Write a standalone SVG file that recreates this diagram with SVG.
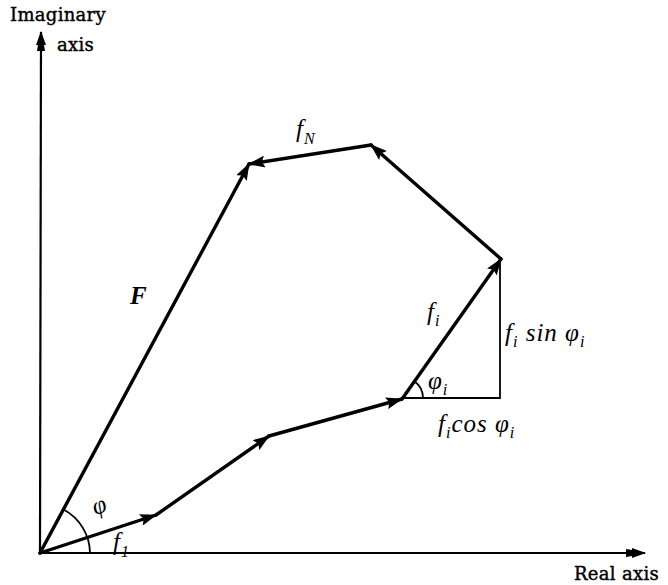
<svg xmlns="http://www.w3.org/2000/svg" width="668" height="585" viewBox="0 0 668 585">
<defs>
<marker id="ah" viewBox="0 0 17 12" refX="16" refY="6" markerWidth="17" markerHeight="12" markerUnits="userSpaceOnUse" orient="auto">
<path d="M0,0 L17,6 L0,12 L3,6 Z" fill="#000"/>
</marker>
<marker id="ax" viewBox="0 0 20 10" refX="19" refY="5" markerWidth="20" markerHeight="10" markerUnits="userSpaceOnUse" orient="auto">
<path d="M0,1 L6,2 L6,0 L20,5 L6,10 L6,8 L0,9 Z" fill="#000"/>
</marker>
</defs>
<style>
.axis{stroke:#000;stroke-width:2.2;fill:none}
.vec{stroke:#000;stroke-width:3.4;fill:none;stroke-linecap:round}
.thin{stroke:#000;stroke-width:1.8;fill:none}
.lab{font-family:"DejaVu Serif","Liberation Serif",serif;font-size:18px;letter-spacing:0.3px;fill:#000;stroke:#000;stroke-width:0.4}
.it{font-family:"Liberation Serif",serif;font-style:italic;font-size:25px;letter-spacing:1px;fill:#000}
.sub{font-family:"Liberation Serif",serif;font-style:italic;font-size:16px;fill:#000}
</style>
<rect width="668" height="585" fill="#fff"/>
<g id="connectors">
<line class="axis" x1="40" y1="553" x2="41" y2="32" marker-end="url(#ax)"/>
<line class="axis" x1="40" y1="553" x2="645" y2="553" marker-end="url(#ax)"/>
<line class="vec" x1="40" y1="553" x2="156" y2="515" marker-end="url(#ah)"/>
<line class="vec" x1="156" y1="515" x2="269" y2="436" marker-end="url(#ah)"/>
<line class="vec" x1="269" y1="436" x2="402" y2="399" marker-end="url(#ah)"/>
<line class="vec" x1="402" y1="399" x2="501" y2="259" marker-end="url(#ah)"/>
<line class="vec" x1="501" y1="259" x2="371" y2="145" marker-end="url(#ah)"/>
<line class="vec" x1="371" y1="145" x2="249" y2="164" marker-end="url(#ah)"/>
<line class="vec" x1="40" y1="553" x2="249" y2="164" marker-end="url(#ah)"/>
<polyline class="thin" points="402,398 500,398 500,261"/>
<path class="thin" d="M63.5,509.5 A50,50 0 0 1 90,553"/>
<path class="thin" d="M423,398 A21,21 0 0 0 414,381"/>
</g>
<g id="labels">
<text class="lab" x="10" y="21">Imaginary</text>
<text class="lab" x="57" y="51">axis</text>
<text class="lab" x="574" y="580">Real axis</text>
<text class="it" x="130" y="304" font-weight="bold" font-size="27">F</text>
<text class="it" x="296" y="137">f<tspan class="sub" dy="7">N</tspan></text>
<text class="it" x="427" y="320">f<tspan class="sub" dy="6">i</tspan></text>
<text class="it" x="505" y="341">f<tspan class="sub" dy="6">i</tspan><tspan dy="-6"> sin φ</tspan><tspan class="sub" dy="6">i</tspan></text>
<text class="it" x="438" y="432">f<tspan class="sub" dy="6">i</tspan><tspan dy="-6">cos φ</tspan><tspan class="sub" dy="6">i</tspan></text>
<text class="it" x="428" y="389" font-size="22">φ<tspan class="sub" dy="6">i</tspan></text>
<text class="it" x="92" y="513" font-size="22" transform="rotate(-20 100 505)">φ</text>
<text class="it" x="113" y="550">f<tspan class="sub" dy="7">1</tspan></text>
</g>
</svg>
